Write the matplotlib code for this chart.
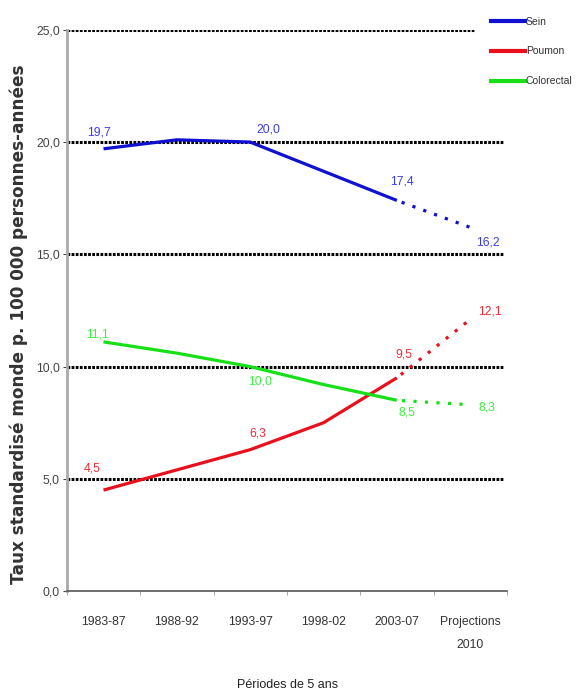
import matplotlib.pyplot as plt
import numpy as np

# Periodes et taux standardises (monde, p. 100 000 personnes-annees)
periodes = ["1983-87", "1988-92", "1993-97", "1998-02", "2003-07", "Projections\n2010"]
sein = [19.7, 20.1, 20.0, 18.7, 17.4, 16.2]
poumon = [4.5, 5.4, 6.3, 7.5, 9.5, 12.1]
colorectal = [11.1, 10.6, 10.0, 9.2, 8.5, 8.3]

# valeurs affichees: (indice, texte)
etiq_sein = [(0, "19,7"), (2, "20,0"), (4, "17,4"), (5, "16,2")]
etiq_poumon = [(0, "4,5"), (2, "6,3"), (4, "9,5"), (5, "12,1")]
etiq_colo = [(0, "11,1"), (2, "10,0"), (4, "8,5"), (5, "8,3")]

police = ["Liberation Sans Narrow", "Liberation Sans", "DejaVu Sans"]

fig = plt.figure(figsize=(5.76, 6.93), dpi=100)
ax = fig.add_axes([0.116, 0.147, 0.764, 0.81])

x = np.arange(len(periodes))
series = [
    ("Sein", sein, "#1010d0", "#3c3ce8", etiq_sein),
    ("Poumon", poumon, "#e8101c", "#ee2c38", etiq_poumon),
    ("Colorectal", colorectal, "#18e018", "#3cf03c", etiq_colo),
]

offsets = {
    "Sein": [(-3, 11.5), (13, 9), (3.5, 13.5), (13, -11)],
    "Poumon": [(-8, 15.5), (5.5, 12), (5, 17), (14, 6)],
    "Colorectal": [(-4.5, 5), (7, -11), (7.5, -9), (12, -2)],
}

for nom, vals, c, ctxt, etiq in series:
    ax.plot(x[:5], vals[:5], color=c, lw=2.3, label=nom, solid_capstyle="butt")
    ax.plot(x[4:], vals[4:], color=c, lw=2.3, linestyle=(2, (1, 2.6)))
    for (i, txt), (dx, dy) in zip(etiq, offsets[nom]):
        ax.annotate(txt, (x[i], vals[i]), xytext=(dx, dy), textcoords="offset points",
                    ha="center", va="center", color=ctxt, fontsize=8.8, family=police)

ax.set_xlim(-0.5, 5.5)
ax.set_ylim(0, 25)
ax.set_yticks(np.arange(0, 26, 5))
ax.set_yticklabels([f"{v:.1f}".replace(".", ",") for v in np.arange(0, 26, 5)],
                   family=police, fontsize=8.8, color="#444444")
ax.set_xticks(x)
ax.set_xticklabels(periodes, family=police, fontsize=8.8, color="#333333", linespacing=2.2)
ax.set_xticks(np.arange(-0.5, 5.6, 1), minor=True)
ax.tick_params(axis="x", which="major", length=0, pad=18)
ax.tick_params(axis="x", which="minor", length=3, color="#999999")
ax.tick_params(axis="y", length=3, color="#444444", pad=2)

for v in np.arange(5, 26, 5):
    ax.axhline(v, xmax=0.992, color="black", lw=2.2, linestyle=(0, (0.9, 0.45)), zorder=0.5)

for s in ["top", "right"]:
    ax.spines[s].set_visible(False)
ax.spines["left"].set_color("#aaaaaa")
ax.spines["left"].set_linewidth(2)
ax.spines["bottom"].set_color("#555555")
ax.spines["bottom"].set_linewidth(1.2)

ax.set_ylabel("Taux standardisé monde p. 100 000 personnes-années",
              fontsize=12.2, fontweight="bold", color="#333333")
ax.yaxis.set_label_coords(-0.088, 0.475)
fig.text(0.5, 0.003, "Périodes de 5 ans", ha="center", va="bottom",
         fontsize=9, family=police, color="#222222")

handles = [plt.Line2D([], [], color=c, lw=3) for _, _, c, _, _ in series]
leg = fig.legend(handles, [s[0] for s in series], loc="upper left",
                 bbox_to_anchor=(0.816, 1.006), frameon=True,
                 handlelength=3.3, handletextpad=0.05, labelspacing=1.9,
                 borderpad=1.5, prop={"family": police, "size": 7.5})
leg.get_frame().set_edgecolor("white")
leg.get_frame().set_facecolor("white")
leg.get_frame().set_alpha(1)
for t in leg.get_texts():
    t.set_color("#333333")

fig.savefig("out.png", dpi=100)
